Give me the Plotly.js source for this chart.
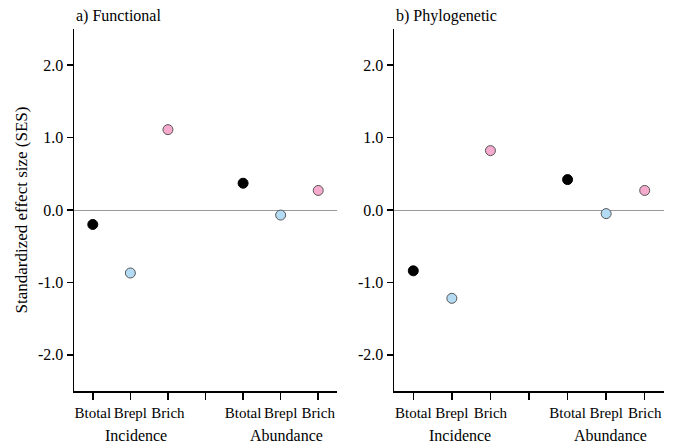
<!DOCTYPE html>
<html>
<head>
<meta charset="utf-8">
<script src="https://cdn.plot.ly/plotly-3.0.1.min.js"></script>
<style>html,body{margin:0;padding:0;background:#fff;}#chart{width:676px;height:444px;}</style>
</head>
<body>
<div id="chart"></div>
<script>
// Data
const positions = [1, 2, 3, 5, 6, 7];
const metrics = ["Btotal", "Brepl", "Brich", "Btotal", "Brepl", "Brich"];
const functionalSES = [-0.20, -0.87, 1.11, 0.37, -0.07, 0.27];
const phylogeneticSES = [-0.84, -1.22, 0.82, 0.42, -0.05, 0.27];
const groups = ["Incidence", "Abundance"];
const panelTitles = ["a) Functional", "b) Phylogenetic"];
const yTickVals = [-2, -1, 0, 1, 2];
const yTickText = ["-2.0", "-1.0", "0.0", "1.0", "2.0"];

const fillColors = { Btotal: "#000000", Brepl: "#b3dcf4", Brich: "#f6aacd" };
const lineColors = { Btotal: "#000000", Brepl: "#555555", Brich: "#555555" };

const FONT = "Liberation Serif";

function makeTrace(vals, xa, ya) {
  return {
    type: "scatter", mode: "markers",
    x: positions, y: vals, xaxis: xa, yaxis: ya,
    marker: {
      size: 10,
      color: metrics.map(m => fillColors[m]),
      line: { color: metrics.map(m => lineColors[m]), width: 1 }
    },
    hoverinfo: "skip", showlegend: false
  };
}

const xTickVals = [1, 2, 3, 4, 5, 6, 7];
const xTickText = [metrics[0], metrics[1], metrics[2], "", metrics[3], metrics[4], metrics[5]];

function xAxis(domain, anchor) {
  return {
    domain: domain, anchor: anchor, range: [0.5, 7.5],
    tickmode: "array", tickvals: xTickVals, ticktext: xTickText,
    tickangle: 0,
    ticks: "outside", ticklen: 7, tickwidth: 1.5, tickcolor: "#000",
    showline: true, linecolor: "#000", linewidth: 1.5,
    showgrid: false, zeroline: false,
    tickfont: { family: FONT, size: 15, color: "#000" }
  };
}
function yAxis(anchor, title) {
  const ax = {
    anchor: anchor, domain: [0, 1], range: [-2.5, 2.5],
    tickmode: "array", tickvals: yTickVals, ticktext: yTickText,
    ticks: "outside", ticklen: 6, tickwidth: 1.5, tickcolor: "#000",
    showline: true, linecolor: "#000", linewidth: 1.5,
    showgrid: false, zeroline: true, zerolinecolor: "#999", zerolinewidth: 1,
    tickfont: { family: FONT, size: 16, color: "#000" }
  };
  if (title) ax.title = { text: title, font: { family: FONT, size: 17, color: "#000" }, standoff: 6 };
  return ax;
}

const data = [
  makeTrace(functionalSES, "x", "y"),
  makeTrace(phylogeneticSES, "x2", "y2")
];

const annFont = { family: FONT, size: 16, color: "#000" };
const annotations = [
  { xref: "x domain", yref: "paper", x: 0, y: 1, xanchor: "left", yanchor: "bottom", yshift: 2, text: panelTitles[0], showarrow: false, font: annFont },
  { xref: "x2 domain", yref: "paper", x: 0, y: 1, xanchor: "left", yanchor: "bottom", yshift: 2, text: panelTitles[1], showarrow: false, font: annFont },
  { xref: "x", yref: "paper", x: 2.15, y: 0, yshift: -44, yanchor: "middle", text: groups[0], showarrow: false, font: annFont },
  { xref: "x", yref: "paper", x: 6.15, y: 0, yshift: -44, yanchor: "middle", text: groups[1], showarrow: false, font: annFont },
  { xref: "x2", yref: "paper", x: 2.2, y: 0, yshift: -44, yanchor: "middle", text: groups[0], showarrow: false, font: annFont },
  { xref: "x2", yref: "paper", x: 6.1, y: 0, yshift: -44, yanchor: "middle", text: groups[1], showarrow: false, font: annFont }
];

const layout = {
  width: 676, height: 444,
  margin: { l: 74, r: 12, t: 29, b: 53 },
  paper_bgcolor: "#fff", plot_bgcolor: "#fff",
  font: { family: FONT, size: 16, color: "#000" },
  xaxis: xAxis([0, 0.4458], "y"),
  yaxis: yAxis("x", "Standardized effect size (SES)"),
  xaxis2: xAxis([0.5424, 1], "y2"),
  yaxis2: yAxis("x2", null),
  annotations: annotations,
  showlegend: false
};

Plotly.newPlot("chart", data, layout, { displayModeBar: false, staticPlot: true });
</script>
</body>
</html>
